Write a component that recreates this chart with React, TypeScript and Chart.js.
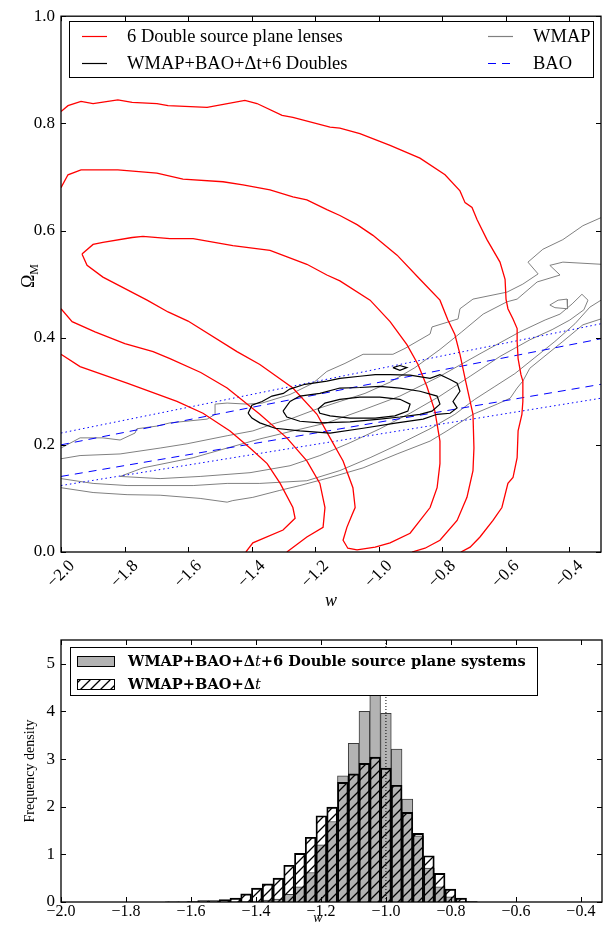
import React, { useEffect, useRef } from 'react';
import { Chart, registerables } from 'chart.js';

Chart.register(...registerables);

type P = [number, number];

// ================= Top panel: w vs Omega_M =================
const W_TICKS_TOP = [-2.0, -1.8, -1.6, -1.4, -1.2, -1.0, -0.8, -0.6, -0.4];
const OM_TICKS = [0.0, 0.2, 0.4, 0.6, 0.8, 1.0];

// 6 Double source plane lenses (red contours)
const LENS_OUTER_UPPER: P[] = [
  [-2.0, 0.822], [-1.978, 0.833], [-1.937, 0.841], [-1.899, 0.837], [-1.821, 0.844], [-1.776, 0.839],
  [-1.698, 0.837], [-1.663, 0.833], [-1.54, 0.83], [-1.421, 0.843], [-1.383, 0.837], [-1.304, 0.815],
  [-1.27, 0.811], [-1.153, 0.793], [-1.122, 0.791], [-1.059, 0.781], [-0.964, 0.759], [-0.87, 0.735],
  [-0.791, 0.704], [-0.744, 0.674], [-0.728, 0.652], [-0.706, 0.643], [-0.69, 0.62], [-0.659, 0.583],
  [-0.618, 0.541], [-0.602, 0.509], [-0.599, 0.472], [-0.593, 0.454], [-0.577, 0.435], [-0.564, 0.417],
  [-0.564, 0.393], [-0.561, 0.361], [-0.552, 0.331], [-0.546, 0.319], [-0.546, 0.281], [-0.549, 0.257],
  [-0.561, 0.226], [-0.564, 0.176], [-0.577, 0.139], [-0.593, 0.128], [-0.612, 0.083], [-0.64, 0.059],
  [-0.681, 0.028], [-0.712, 0.009], [-0.741, 0.0],
];
const LENS_OUTER_LOWER: P[] = [
  [-2.0, 0.369], [-1.94, 0.346], [-1.792, 0.315], [-1.635, 0.281], [-1.553, 0.259], [-1.468, 0.226],
  [-1.405, 0.194], [-1.351, 0.165], [-1.31, 0.128], [-1.27, 0.083], [-1.263, 0.063], [-1.301, 0.041],
  [-1.396, 0.017], [-1.418, 0.0],
];
const LENS_MID_UPPER: P[] = [
  [-2.0, 0.68], [-1.978, 0.704], [-1.937, 0.713], [-1.821, 0.713], [-1.698, 0.707], [-1.616, 0.696],
  [-1.49, 0.691], [-1.427, 0.685], [-1.342, 0.676], [-1.27, 0.663], [-1.226, 0.657], [-1.163, 0.639],
  [-1.122, 0.628], [-1.068, 0.611], [-1.018, 0.591], [-0.942, 0.554], [-0.87, 0.509], [-0.807, 0.47],
  [-0.782, 0.433], [-0.76, 0.406], [-0.744, 0.369], [-0.728, 0.324], [-0.712, 0.281], [-0.703, 0.257],
  [-0.7, 0.194], [-0.703, 0.152], [-0.722, 0.102], [-0.753, 0.059], [-0.807, 0.022], [-0.854, 0.007],
  [-0.895, 0.0],
];
const LENS_MID_LOWER: P[] = [
  [-2.0, 0.454], [-1.965, 0.43], [-1.893, 0.411], [-1.799, 0.389], [-1.71, 0.374], [-1.657, 0.361],
  [-1.56, 0.335], [-1.477, 0.306], [-1.374, 0.257], [-1.289, 0.213], [-1.226, 0.17], [-1.185, 0.128],
  [-1.169, 0.083], [-1.175, 0.046], [-1.226, 0.028], [-1.289, 0.0],
];
const LENS_INNER: P[] = [
  [-1.934, 0.556], [-1.899, 0.574], [-1.868, 0.578], [-1.776, 0.587], [-1.742, 0.589], [-1.657, 0.585],
  [-1.584, 0.585], [-1.459, 0.572], [-1.342, 0.563], [-1.226, 0.537], [-1.163, 0.517], [-1.122, 0.506],
  [-1.027, 0.47], [-0.964, 0.43], [-0.911, 0.387], [-0.876, 0.35], [-0.848, 0.309], [-0.823, 0.263],
  [-0.807, 0.207], [-0.807, 0.165], [-0.816, 0.12], [-0.838, 0.083], [-0.901, 0.035], [-0.964, 0.017],
  [-1.011, 0.009], [-1.068, 0.004], [-1.097, 0.007], [-1.112, 0.022], [-1.1, 0.046], [-1.084, 0.069],
  [-1.074, 0.083], [-1.081, 0.12], [-1.112, 0.17], [-1.153, 0.213], [-1.194, 0.257], [-1.27, 0.306],
  [-1.374, 0.35], [-1.446, 0.374], [-1.6, 0.431], [-1.663, 0.448], [-1.729, 0.47], [-1.868, 0.513],
  [-1.918, 0.535],
];

// WMAP (gray contours)
const WMAP_OUTER_UPPER: P[] = [
  [-2.0, 0.194], [-1.94, 0.213], [-1.868, 0.213], [-1.814, 0.209], [-1.767, 0.222], [-1.761, 0.23],
  [-1.698, 0.235], [-1.657, 0.241], [-1.54, 0.248], [-1.515, 0.257], [-1.515, 0.276], [-1.477, 0.278],
  [-1.414, 0.276], [-1.367, 0.278], [-1.279, 0.294], [-1.207, 0.315], [-1.163, 0.337], [-1.106, 0.352],
  [-1.049, 0.369], [-0.955, 0.369], [-0.917, 0.38], [-0.838, 0.407], [-0.832, 0.42], [-0.75, 0.435],
  [-0.744, 0.454], [-0.703, 0.472], [-0.596, 0.485], [-0.546, 0.5], [-0.498, 0.519], [-0.53, 0.541],
  [-0.483, 0.565], [-0.42, 0.583], [-0.357, 0.609], [-0.3, 0.624],
];
const WMAP_OUTER_LOWER: P[] = [
  [-2.0, 0.12], [-1.899, 0.111], [-1.792, 0.107], [-1.688, 0.106], [-1.562, 0.1], [-1.477, 0.093],
  [-1.459, 0.096], [-1.396, 0.102], [-1.311, 0.115], [-1.248, 0.124], [-1.153, 0.139], [-1.049, 0.157],
  [-0.942, 0.183], [-0.838, 0.207], [-0.785, 0.226], [-0.703, 0.257], [-0.627, 0.276], [-0.586, 0.287],
  [-0.564, 0.306], [-0.546, 0.319], [-0.524, 0.343], [-0.47, 0.369], [-0.42, 0.393], [-0.357, 0.424],
  [-0.3, 0.435],
];
const WMAP_MID_UPPER: P[] = [
  [-2.0, 0.174], [-1.94, 0.18], [-1.814, 0.183], [-1.688, 0.194], [-1.603, 0.202], [-1.477, 0.217],
  [-1.396, 0.226], [-1.333, 0.239], [-1.27, 0.25], [-1.194, 0.267], [-1.122, 0.281], [-1.043, 0.296],
  [-0.964, 0.317], [-0.886, 0.344], [-0.807, 0.378], [-0.738, 0.411], [-0.671, 0.444], [-0.596, 0.467],
  [-0.564, 0.472], [-0.501, 0.504], [-0.429, 0.517], [-0.461, 0.535], [-0.42, 0.541], [-0.3, 0.537],
];
const WMAP_MID_LOWER: P[] = [
  [-2.0, 0.137], [-1.899, 0.128], [-1.792, 0.124], [-1.584, 0.124], [-1.477, 0.128], [-1.374, 0.128],
  [-1.226, 0.133], [-1.122, 0.152], [-1.027, 0.176], [-0.933, 0.202], [-0.838, 0.23], [-0.76, 0.257],
  [-0.697, 0.285], [-0.634, 0.309], [-0.571, 0.333], [-0.508, 0.363], [-0.445, 0.393], [-0.382, 0.426],
  [-0.335, 0.457], [-0.3, 0.47],
];
const WMAP_INNER: P[] = [
  [-1.814, 0.141], [-1.742, 0.157], [-1.584, 0.176], [-1.477, 0.194], [-1.374, 0.211], [-1.27, 0.226],
  [-1.163, 0.241], [-1.059, 0.263], [-0.933, 0.291], [-0.807, 0.328], [-0.681, 0.37], [-0.555, 0.411],
  [-0.476, 0.433], [-0.429, 0.444], [-0.391, 0.463], [-0.36, 0.481], [-0.341, 0.47], [-0.354, 0.452],
  [-0.398, 0.433], [-0.454, 0.415], [-0.524, 0.396], [-0.618, 0.365], [-0.712, 0.328], [-0.807, 0.291],
  [-0.901, 0.259], [-0.996, 0.23], [-1.09, 0.204], [-1.185, 0.18], [-1.279, 0.161], [-1.405, 0.148],
  [-1.562, 0.141], [-1.688, 0.137],
];
const WMAP_ISLAND: P[] = [
  [-0.461, 0.461], [-0.435, 0.47], [-0.407, 0.472], [-0.404, 0.459], [-0.407, 0.454], [-0.445, 0.456],
];

// WMAP+BAO+Dt+6 Doubles (black contours)
const COMBO_OUTER: P[] = [
  [-1.411, 0.259], [-1.399, 0.274], [-1.367, 0.281], [-1.336, 0.291], [-1.3, 0.296], [-1.28, 0.304],
  [-1.232, 0.313], [-1.163, 0.319], [-1.122, 0.324], [-1.059, 0.328], [-1.011, 0.331], [-0.964, 0.331],
  [-0.901, 0.33], [-0.838, 0.324], [-0.807, 0.331], [-0.775, 0.322], [-0.753, 0.315], [-0.744, 0.3],
  [-0.766, 0.281], [-0.753, 0.269], [-0.775, 0.259], [-0.816, 0.257], [-0.86, 0.248], [-0.942, 0.241],
  [-1.049, 0.231], [-1.153, 0.222], [-1.248, 0.226], [-1.326, 0.231], [-1.374, 0.241], [-1.399, 0.25],
];
const COMBO_MID: P[] = [
  [-1.301, 0.263], [-1.279, 0.281], [-1.248, 0.291], [-1.185, 0.296], [-1.122, 0.306], [-1.059, 0.307],
  [-0.996, 0.309], [-0.933, 0.306], [-0.87, 0.3], [-0.816, 0.291], [-0.807, 0.276], [-0.832, 0.263],
  [-0.87, 0.257], [-0.933, 0.252], [-0.996, 0.248], [-1.09, 0.243], [-1.185, 0.241], [-1.248, 0.244],
  [-1.289, 0.252],
];
const COMBO_INNER: P[] = [
  [-1.191, 0.267], [-1.169, 0.278], [-1.122, 0.285], [-1.059, 0.289], [-0.996, 0.289], [-0.933, 0.285],
  [-0.901, 0.276], [-0.908, 0.263], [-0.949, 0.254], [-1.011, 0.25], [-1.09, 0.25], [-1.153, 0.254],
  [-1.185, 0.259],
];
const COMBO_ISLAND: P[] = [[-0.955, 0.344], [-0.933, 0.348], [-0.911, 0.344], [-0.933, 0.339]];

// BAO (blue straight bands)
const BAO_DASH_UPPER: P[] = [[-2.0, 0.2], [-0.3, 0.398]];
const BAO_DASH_LOWER: P[] = [[-2.0, 0.141], [-0.3, 0.313]];
const BAO_DOT_UPPER: P[] = [[-2.0, 0.222], [-0.3, 0.426]];
const BAO_DOT_LOWER: P[] = [[-2.0, 0.124], [-0.3, 0.287]];

// ================= Bottom panel: histogram of w =================
const W_TICKS_HIST = [-2.0, -1.8, -1.6, -1.4, -1.2, -1.0, -0.8, -0.6, -0.4];
const DENSITY_TICKS = [0, 1, 2, 3, 4, 5];
const BIN_CENTERS = [
  -1.6621, -1.629, -1.5959, -1.5628, -1.5297, -1.4966, -1.4635, -1.4304, -1.3973, -1.3642,
  -1.3311, -1.298, -1.2649, -1.2318, -1.1987, -1.1656, -1.1325, -1.0994, -1.0663, -1.0332,
  -1.0001, -0.967, -0.9339, -0.9008, -0.8677, -0.8346, -0.8015, -0.7684, -0.7353,
];
const HIST_WITH_DOUBLES = [
  0, 0, 0, 0, 0, 0, 0.005, 0.01, 0.02, 0.04,
  0.06, 0.16, 0.32, 0.62, 1.2, 1.69, 2.65, 3.33, 4.0, 4.35,
  3.96, 3.21, 2.16, 1.39, 0.71, 0.32, 0.11, 0.02, 0.0,
];
const HIST_WITHOUT = [
  0.005, 0.005, 0.01, 0.03, 0.03, 0.05, 0.08, 0.17, 0.29, 0.38,
  0.5, 0.77, 1.02, 1.36, 1.81, 1.99, 2.51, 2.69, 2.91, 3.04,
  2.81, 2.45, 1.88, 1.44, 0.97, 0.6, 0.27, 0.08, 0.01,
];
const W_TRUE = -1.0;

// ================= helpers =================
const SERIF = "'Liberation Serif', 'Times New Roman', serif";
const WIDE_SERIF = "'DejaVu Serif', serif";

const fmt = (v: number, d: number) => {
  const s = Math.abs(v).toFixed(d);
  return v < -1e-9 ? '\u2212' + s : s;
};

const toXY = (a: P[], close = false) => (close ? [...a, a[0]] : a).map(([x, y]) => ({ x, y }));

const lineDs = (a: P[], color: string, width: number, dash: number[] = [], close = false) => ({
  data: toXY(a, close),
  showLine: true,
  borderColor: color,
  borderWidth: width,
  borderDash: dash,
  pointRadius: 0,
  pointHoverRadius: 0,
  fill: false,
  tension: 0,
});

function framePlugin(xTicks: number[], yTicks: number[], tickLen: number) {
  return {
    id: 'frameTicks',
    afterDatasetsDraw(chart: any) {
      const { ctx, chartArea: a } = chart;
      const xs = chart.scales.x;
      const ys = chart.scales.y;
      ctx.save();
      ctx.strokeStyle = '#000';
      ctx.lineWidth = 1;
      ctx.setLineDash([]);
      ctx.beginPath();
      for (const v of xTicks) {
        const px = Math.round(xs.getPixelForValue(v)) + 0.5;
        ctx.moveTo(px, a.bottom);
        ctx.lineTo(px, a.bottom - tickLen);
        ctx.moveTo(px, a.top);
        ctx.lineTo(px, a.top + tickLen);
      }
      for (const v of yTicks) {
        const py = Math.round(ys.getPixelForValue(v)) + 0.5;
        ctx.moveTo(a.left, py);
        ctx.lineTo(a.left + tickLen, py);
        ctx.moveTo(a.right, py);
        ctx.lineTo(a.right - tickLen, py);
      }
      ctx.stroke();
      ctx.lineWidth = 1.3;
      ctx.strokeRect(a.left, a.top, a.right - a.left, a.bottom - a.top);
      ctx.restore();
    },
  };
}

const topLegendPlugin = {
  id: 'topLegend',
  afterDraw(chart: any) {
    const ctx = chart.ctx;
    ctx.save();
    ctx.fillStyle = '#fff';
    ctx.fillRect(69, 21, 524, 56);
    ctx.strokeStyle = '#000';
    ctx.lineWidth = 1;
    ctx.strokeRect(69.5, 21.5, 524, 56);
    const items = [
      { label: '6 Double source plane lenses', color: '#ff0000', dash: [] as number[], x: 82, y: 36 },
      { label: 'WMAP+BAO+\u0394t+6 Doubles', color: '#000000', dash: [] as number[], x: 82, y: 63 },
      { label: 'WMAP', color: '#808080', dash: [] as number[], x: 488, y: 36 },
      { label: 'BAO', color: '#0000ff', dash: [8, 6], x: 488, y: 63 },
    ];
    ctx.font = `18.5px ${SERIF}`;
    ctx.textBaseline = 'middle';
    ctx.textAlign = 'left';
    for (const it of items) {
      ctx.beginPath();
      ctx.setLineDash(it.dash);
      ctx.strokeStyle = it.color;
      ctx.lineWidth = 1.2;
      ctx.moveTo(it.x, it.y + 0.5);
      ctx.lineTo(it.x + 25, it.y + 0.5);
      ctx.stroke();
      ctx.setLineDash([]);
      ctx.fillStyle = '#000';
      ctx.fillText(it.label, it.x + 45, it.y + 1);
    }
    ctx.restore();
  },
};

const topTitlesPlugin = {
  id: 'topTitles',
  afterDraw(chart: any) {
    const ctx = chart.ctx;
    const a = chart.chartArea;
    ctx.save();
    ctx.fillStyle = '#000';
    ctx.font = `italic 18px ${SERIF}`;
    ctx.textAlign = 'center';
    ctx.textBaseline = 'middle';
    ctx.fillText('w', (a.left + a.right) / 2, 601);
    ctx.translate(34, 276);
    ctx.rotate(-Math.PI / 2);
    ctx.textAlign = 'left';
    ctx.textBaseline = 'alphabetic';
    ctx.font = `18px ${SERIF}`;
    const wO = ctx.measureText('\u03A9').width;
    ctx.font = `12px ${SERIF}`;
    const wM = ctx.measureText('M').width;
    const start = -(wO + wM) / 2;
    ctx.font = `18px ${SERIF}`;
    ctx.fillText('\u03A9', start, 0);
    ctx.font = `12px ${SERIF}`;
    ctx.fillText('M', start + wO, 4);
    ctx.restore();
  },
};

function makeHatch(): any {
  const c = document.createElement('canvas');
  c.width = 10;
  c.height = 10;
  const g = c.getContext('2d');
  if (!g) return 'rgba(0,0,0,0)';
  g.strokeStyle = '#000';
  g.lineWidth = 1.3;
  g.beginPath();
  g.moveTo(0, 10);
  g.lineTo(10, 0);
  g.moveTo(-5, 5);
  g.lineTo(5, -5);
  g.moveTo(5, 15);
  g.lineTo(15, 5);
  g.stroke();
  return g.createPattern(c, 'repeat') || 'rgba(0,0,0,0)';
}

function histLegendPlugin(hatch: any) {
  return {
    id: 'histLegend',
    afterDraw(chart: any) {
      const ctx = chart.ctx;
      ctx.save();
      ctx.fillStyle = '#fff';
      ctx.fillRect(70, 27, 467, 48);
      ctx.strokeStyle = '#000';
      ctx.lineWidth = 1;
      ctx.strokeRect(70.5, 27.5, 467, 48);
      ctx.fillStyle = '#b3b3b3';
      ctx.fillRect(77, 36, 37, 10);
      ctx.strokeRect(77.5, 36.5, 37, 10);
      ctx.fillStyle = hatch;
      ctx.fillRect(77, 59, 37, 10);
      ctx.strokeRect(77.5, 59.5, 37, 10);
      const drawRich = (parts: { t: string; f: string }[], x: number, y: number) => {
        let cx = x;
        for (const p of parts) {
          ctx.font = p.f;
          ctx.fillText(p.t, cx, y);
          cx += ctx.measureText(p.t).width;
        }
      };
      ctx.fillStyle = '#000';
      ctx.textBaseline = 'middle';
      ctx.textAlign = 'left';
      const B = `bold 14.6px ${WIDE_SERIF}`;
      const I = `italic 14.6px ${WIDE_SERIF}`;
      drawRich([
        { t: 'WMAP+BAO+\u0394', f: B },
        { t: 't', f: I },
        { t: '+6 Double source plane systems', f: B },
      ], 128, 42);
      drawRich([
        { t: 'WMAP+BAO+\u0394', f: B },
        { t: 't', f: I },
      ], 128, 65);
      ctx.restore();
    },
  };
}

const histTitlesPlugin = {
  id: 'histTitles',
  afterDraw(chart: any) {
    const ctx = chart.ctx;
    ctx.save();
    ctx.fillStyle = '#000';
    ctx.font = `italic 14px ${SERIF}`;
    ctx.textAlign = 'center';
    ctx.textBaseline = 'middle';
    ctx.fillText('w', 318, 298);
    ctx.translate(30, 151);
    ctx.rotate(-Math.PI / 2);
    ctx.font = `14px ${SERIF}`;
    ctx.fillText('Frequency density', 0, 0);
    ctx.restore();
  },
};

// ================= components =================
function TopPanel() {
  const ref = useRef<HTMLCanvasElement>(null);
  useEffect(() => {
    const gray = '#808080';
    const red = '#ff0000';
    const blue = '#0000ff';
    const datasets = [
      lineDs(WMAP_OUTER_UPPER, gray, 1),
      lineDs(WMAP_OUTER_LOWER, gray, 1),
      lineDs(WMAP_MID_UPPER, gray, 1),
      lineDs(WMAP_MID_LOWER, gray, 1),
      lineDs(WMAP_INNER, gray, 1, [], true),
      lineDs(WMAP_ISLAND, gray, 1, [], true),
      lineDs(BAO_DASH_UPPER, blue, 1, [8, 6]),
      lineDs(BAO_DASH_LOWER, blue, 1, [8, 6]),
      lineDs(BAO_DOT_UPPER, blue, 1, [1.5, 3]),
      lineDs(BAO_DOT_LOWER, blue, 1, [1.5, 3]),
      lineDs(LENS_OUTER_UPPER, red, 1.3),
      lineDs(LENS_OUTER_LOWER, red, 1.3),
      lineDs(LENS_MID_UPPER, red, 1.3),
      lineDs(LENS_MID_LOWER, red, 1.3),
      lineDs(LENS_INNER, red, 1.3, [], true),
      lineDs(COMBO_OUTER, '#000', 1.2, [], true),
      lineDs(COMBO_MID, '#000', 1.2, [], true),
      lineDs(COMBO_INNER, '#000', 1.2, [], true),
      lineDs(COMBO_ISLAND, '#000', 1.2, [], true),
    ].map((d, i) => ({ ...d, order: 100 - i }));
    const chart = new Chart(ref.current as HTMLCanvasElement, {
      type: 'scatter',
      data: { datasets } as any,
      options: {
        animation: false,
        responsive: false,
        devicePixelRatio: 1,
        events: [],
        layout: { padding: { top: 12, right: 9, left: 0, bottom: 0 } },
        plugins: { legend: { display: false }, tooltip: { enabled: false } },
        scales: {
          x: {
            type: 'linear',
            min: -2.0,
            max: -0.3,
            grid: { display: false, drawTicks: false },
            border: { display: false },
            afterBuildTicks: (s: any) => { s.ticks = W_TICKS_TOP.map((v) => ({ value: v })); },
            afterFit: (s: any) => { s.height = 68; },
            ticks: {
              autoSkip: false,
              minRotation: 45,
              maxRotation: 45,
              padding: 4,
              labelOffset: 11,
              color: '#000',
              font: { family: SERIF, size: 17 },
              callback: (v: any) => fmt(Number(v), 1),
            },
          },
          y: {
            type: 'linear',
            min: 0,
            max: 1,
            grid: { display: false, drawTicks: false },
            border: { display: false },
            afterBuildTicks: (s: any) => { s.ticks = OM_TICKS.map((v) => ({ value: v })); },
            afterFit: (s: any) => { s.width = 61; },
            ticks: {
              padding: 6,
              color: '#000',
              font: { family: SERIF, size: 17 },
              callback: (v: any) => fmt(Number(v), 1),
            },
          },
        },
      } as any,
      plugins: [framePlugin(W_TICKS_TOP, OM_TICKS, 5), topLegendPlugin, topTitlesPlugin] as any,
    });
    return () => chart.destroy();
  }, []);
  return <canvas ref={ref} width={610} height={620} style={{ display: 'block' }} />;
}

function HistPanel() {
  const ref = useRef<HTMLCanvasElement>(null);
  useEffect(() => {
    const hatch = makeHatch();
    const chart = new Chart(ref.current as HTMLCanvasElement, {
      type: 'bar',
      data: {
        datasets: [
          {
            type: 'line',
            data: [{ x: W_TRUE, y: 0 }, { x: W_TRUE, y: 5.5 }],
            borderColor: '#000',
            borderWidth: 1,
            borderDash: [1, 2],
            pointRadius: 0,
            fill: false,
            order: 0,
          },
          {
            type: 'bar',
            label: 'WMAP+BAO+\u0394t',
            data: BIN_CENTERS.map((x, i) => ({ x, y: HIST_WITHOUT[i] })),
            backgroundColor: hatch,
            borderColor: '#000',
            borderWidth: 1.2,
            grouped: false,
            barPercentage: 1,
            categoryPercentage: 1,
            order: 1,
          },
          {
            type: 'bar',
            label: 'WMAP+BAO+\u0394t+6 Double source plane systems',
            data: BIN_CENTERS.map((x, i) => ({ x, y: HIST_WITH_DOUBLES[i] })),
            backgroundColor: '#b3b3b3',
            borderColor: '#3c3c3c',
            borderWidth: 1,
            grouped: false,
            barPercentage: 1,
            categoryPercentage: 1,
            order: 2,
          },
        ],
      } as any,
      options: {
        animation: false,
        responsive: false,
        devicePixelRatio: 1,
        events: [],
        layout: { padding: { top: 20, right: 8, left: 0, bottom: 0 } },
        plugins: { legend: { display: false }, tooltip: { enabled: false } },
        scales: {
          x: {
            type: 'linear',
            min: -2.0,
            max: -0.335,
            offset: false,
            grid: { display: false, drawTicks: false, offset: false },
            border: { display: false },
            afterBuildTicks: (s: any) => { s.ticks = W_TICKS_HIST.map((v) => ({ value: v })); },
            afterFit: (s: any) => { s.height = 24; },
            ticks: {
              autoSkip: false,
              minRotation: 0,
              maxRotation: 0,
              padding: 0,
              color: '#000',
              font: { family: SERIF, size: 16 },
              callback: (v: any) => fmt(Number(v), 1),
            },
          },
          y: {
            type: 'linear',
            min: 0,
            max: 5.5,
            grid: { display: false, drawTicks: false },
            border: { display: false },
            afterBuildTicks: (s: any) => { s.ticks = DENSITY_TICKS.map((v) => ({ value: v })); },
            afterFit: (s: any) => { s.width = 61; },
            ticks: {
              padding: 6,
              color: '#000',
              font: { family: SERIF, size: 17 },
              callback: (v: any) => fmt(Number(v), 0),
            },
          },
        },
      } as any,
      plugins: [framePlugin(W_TICKS_HIST, DENSITY_TICKS, 5), histLegendPlugin(hatch), histTitlesPlugin] as any,
    });
    return () => chart.destroy();
  }, []);
  return <canvas ref={ref} width={610} height={306} style={{ display: 'block' }} />;
}

export default function App() {
  return (
    <div style={{ position: 'relative', width: 610, height: 926, background: '#fff', overflow: 'hidden' }}>
      <style>{'body{margin:0;background:#fff;}'}</style>
      <div style={{ position: 'absolute', left: 0, top: 0 }}>
        <TopPanel />
      </div>
      <div style={{ position: 'absolute', left: 0, top: 620 }}>
        <HistPanel />
      </div>
    </div>
  );
}
